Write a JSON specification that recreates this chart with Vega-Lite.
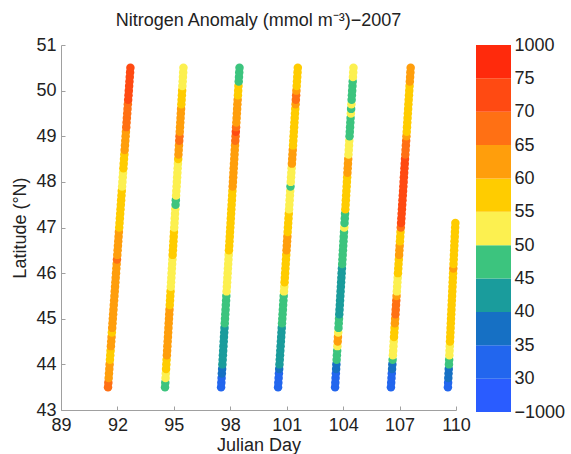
{
  "$schema": "https://vega.github.io/schema/vega-lite/v6.json",
  "background": "white",
  "padding": {"left": 11, "top": 12, "right": 5, "bottom": 0},
  "config": {"view": {"stroke": null}, "font": "Liberation Sans"},
  "spacing": 20,
  "bounds": "flush",
  "datasets": {
    "pts": [
      {"day":91.5,"lat":43.5,"n":67},{"day":91.517,"lat":43.6,"n":67},{"day":91.534,"lat":43.7,"n":62},{"day":91.551,"lat":43.8,"n":62},{"day":91.568,"lat":43.9,"n":62},{"day":91.585,"lat":44.0,"n":62},{"day":91.602,"lat":44.1,"n":57},{"day":91.619,"lat":44.2,"n":57},{"day":91.636,"lat":44.3,"n":57},{"day":91.653,"lat":44.4,"n":62},{"day":91.67,"lat":44.5,"n":62},{"day":91.687,"lat":44.6,"n":62},{"day":91.704,"lat":44.7,"n":57},{"day":91.721,"lat":44.8,"n":62},{"day":91.738,"lat":44.9,"n":62},{"day":91.755,"lat":45.0,"n":62},{"day":91.772,"lat":45.1,"n":62},{"day":91.789,"lat":45.2,"n":62},{"day":91.806,"lat":45.3,"n":62},{"day":91.823,"lat":45.4,"n":62},{"day":91.84,"lat":45.5,"n":62},{"day":91.857,"lat":45.6,"n":62},{"day":91.874,"lat":45.7,"n":62},{"day":91.891,"lat":45.8,"n":62},{"day":91.908,"lat":45.9,"n":62},{"day":91.925,"lat":46.0,"n":62},{"day":91.942,"lat":46.1,"n":62},{"day":91.959,"lat":46.2,"n":62},{"day":91.976,"lat":46.3,"n":67},{"day":91.993,"lat":46.4,"n":62},{"day":92.01,"lat":46.5,"n":62},{"day":92.027,"lat":46.6,"n":62},{"day":92.044,"lat":46.7,"n":62},{"day":92.061,"lat":46.8,"n":62},{"day":92.078,"lat":46.9,"n":62},{"day":92.095,"lat":47.0,"n":57},{"day":92.112,"lat":47.1,"n":57},{"day":92.129,"lat":47.2,"n":57},{"day":92.146,"lat":47.3,"n":57},{"day":92.163,"lat":47.4,"n":57},{"day":92.18,"lat":47.5,"n":57},{"day":92.197,"lat":47.6,"n":57},{"day":92.214,"lat":47.7,"n":57},{"day":92.231,"lat":47.8,"n":57},{"day":92.248,"lat":47.9,"n":52},{"day":92.265,"lat":48.0,"n":52},{"day":92.282,"lat":48.1,"n":52},{"day":92.299,"lat":48.2,"n":52},{"day":92.316,"lat":48.3,"n":57},{"day":92.333,"lat":48.4,"n":57},{"day":92.35,"lat":48.5,"n":57},{"day":92.367,"lat":48.6,"n":57},{"day":92.384,"lat":48.7,"n":62},{"day":92.401,"lat":48.8,"n":62},{"day":92.418,"lat":48.9,"n":62},{"day":92.435,"lat":49.0,"n":62},{"day":92.452,"lat":49.1,"n":62},{"day":92.469,"lat":49.2,"n":67},{"day":92.486,"lat":49.3,"n":67},{"day":92.503,"lat":49.4,"n":67},{"day":92.52,"lat":49.5,"n":67},{"day":92.537,"lat":49.6,"n":67},{"day":92.554,"lat":49.7,"n":67},{"day":92.571,"lat":49.8,"n":72},{"day":92.588,"lat":49.9,"n":72},{"day":92.605,"lat":50.0,"n":72},{"day":92.622,"lat":50.1,"n":72},{"day":92.639,"lat":50.2,"n":72},{"day":92.656,"lat":50.3,"n":72},{"day":92.673,"lat":50.4,"n":72},{"day":92.69,"lat":50.5,"n":72},

      {"day":94.53,"lat":43.5,"n":47},{"day":94.544,"lat":43.6,"n":47},{"day":94.558,"lat":43.7,"n":52},{"day":94.572,"lat":43.8,"n":52},{"day":94.586,"lat":43.9,"n":57},{"day":94.6,"lat":44.0,"n":57},{"day":94.614,"lat":44.1,"n":57},{"day":94.628,"lat":44.2,"n":62},{"day":94.642,"lat":44.3,"n":62},{"day":94.656,"lat":44.4,"n":62},{"day":94.67,"lat":44.5,"n":62},{"day":94.684,"lat":44.6,"n":62},{"day":94.698,"lat":44.7,"n":62},{"day":94.712,"lat":44.8,"n":62},{"day":94.726,"lat":44.9,"n":62},{"day":94.74,"lat":45.0,"n":62},{"day":94.754,"lat":45.1,"n":62},{"day":94.768,"lat":45.2,"n":62},{"day":94.782,"lat":45.3,"n":57},{"day":94.796,"lat":45.4,"n":57},{"day":94.81,"lat":45.5,"n":57},{"day":94.824,"lat":45.6,"n":57},{"day":94.838,"lat":45.7,"n":52},{"day":94.852,"lat":45.8,"n":52},{"day":94.866,"lat":45.9,"n":52},{"day":94.88,"lat":46.0,"n":52},{"day":94.894,"lat":46.1,"n":52},{"day":94.908,"lat":46.2,"n":52},{"day":94.922,"lat":46.3,"n":52},{"day":94.936,"lat":46.4,"n":57},{"day":94.95,"lat":46.5,"n":57},{"day":94.964,"lat":46.6,"n":57},{"day":94.978,"lat":46.7,"n":57},{"day":94.992,"lat":46.8,"n":57},{"day":95.006,"lat":46.9,"n":57},{"day":95.02,"lat":47.0,"n":52},{"day":95.034,"lat":47.1,"n":52},{"day":95.048,"lat":47.2,"n":52},{"day":95.062,"lat":47.3,"n":52},{"day":95.076,"lat":47.4,"n":52},{"day":95.09,"lat":47.5,"n":47},{"day":95.104,"lat":47.6,"n":47},{"day":95.118,"lat":47.7,"n":52},{"day":95.132,"lat":47.8,"n":52},{"day":95.146,"lat":47.9,"n":52},{"day":95.16,"lat":48.0,"n":52},{"day":95.174,"lat":48.1,"n":52},{"day":95.188,"lat":48.2,"n":52},{"day":95.202,"lat":48.3,"n":52},{"day":95.216,"lat":48.4,"n":52},{"day":95.23,"lat":48.5,"n":57},{"day":95.244,"lat":48.6,"n":62},{"day":95.258,"lat":48.7,"n":62},{"day":95.272,"lat":48.8,"n":62},{"day":95.286,"lat":48.9,"n":67},{"day":95.3,"lat":49.0,"n":67},{"day":95.314,"lat":49.1,"n":62},{"day":95.328,"lat":49.2,"n":62},{"day":95.342,"lat":49.3,"n":62},{"day":95.356,"lat":49.4,"n":62},{"day":95.37,"lat":49.5,"n":62},{"day":95.384,"lat":49.6,"n":62},{"day":95.398,"lat":49.7,"n":57},{"day":95.412,"lat":49.8,"n":57},{"day":95.426,"lat":49.9,"n":57},{"day":95.44,"lat":50.0,"n":57},{"day":95.454,"lat":50.1,"n":52},{"day":95.468,"lat":50.2,"n":52},{"day":95.482,"lat":50.3,"n":52},{"day":95.496,"lat":50.4,"n":52},{"day":95.51,"lat":50.5,"n":52},

      {"day":97.51,"lat":43.5,"n":32},{"day":97.524,"lat":43.6,"n":32},{"day":97.538,"lat":43.7,"n":32},{"day":97.552,"lat":43.8,"n":37},{"day":97.566,"lat":43.9,"n":37},{"day":97.58,"lat":44.0,"n":42},{"day":97.594,"lat":44.1,"n":42},{"day":97.608,"lat":44.2,"n":42},{"day":97.622,"lat":44.3,"n":42},{"day":97.636,"lat":44.4,"n":42},{"day":97.65,"lat":44.5,"n":42},{"day":97.664,"lat":44.6,"n":42},{"day":97.678,"lat":44.7,"n":42},{"day":97.692,"lat":44.8,"n":42},{"day":97.706,"lat":44.9,"n":47},{"day":97.72,"lat":45.0,"n":47},{"day":97.734,"lat":45.1,"n":47},{"day":97.748,"lat":45.2,"n":47},{"day":97.762,"lat":45.3,"n":47},{"day":97.776,"lat":45.4,"n":47},{"day":97.79,"lat":45.5,"n":47},{"day":97.804,"lat":45.6,"n":52},{"day":97.818,"lat":45.7,"n":52},{"day":97.832,"lat":45.8,"n":52},{"day":97.846,"lat":45.9,"n":52},{"day":97.86,"lat":46.0,"n":52},{"day":97.874,"lat":46.1,"n":52},{"day":97.888,"lat":46.2,"n":52},{"day":97.902,"lat":46.3,"n":52},{"day":97.916,"lat":46.4,"n":52},{"day":97.93,"lat":46.5,"n":57},{"day":97.944,"lat":46.6,"n":57},{"day":97.958,"lat":46.7,"n":57},{"day":97.972,"lat":46.8,"n":57},{"day":97.986,"lat":46.9,"n":57},{"day":98.0,"lat":47.0,"n":57},{"day":98.014,"lat":47.1,"n":57},{"day":98.028,"lat":47.2,"n":57},{"day":98.042,"lat":47.3,"n":57},{"day":98.056,"lat":47.4,"n":57},{"day":98.07,"lat":47.5,"n":57},{"day":98.084,"lat":47.6,"n":57},{"day":98.098,"lat":47.7,"n":57},{"day":98.112,"lat":47.8,"n":57},{"day":98.126,"lat":47.9,"n":62},{"day":98.14,"lat":48.0,"n":62},{"day":98.154,"lat":48.1,"n":62},{"day":98.168,"lat":48.2,"n":62},{"day":98.182,"lat":48.3,"n":62},{"day":98.196,"lat":48.4,"n":62},{"day":98.21,"lat":48.5,"n":62},{"day":98.224,"lat":48.6,"n":62},{"day":98.238,"lat":48.7,"n":62},{"day":98.252,"lat":48.8,"n":62},{"day":98.266,"lat":48.9,"n":67},{"day":98.28,"lat":49.0,"n":67},{"day":98.294,"lat":49.1,"n":72},{"day":98.308,"lat":49.2,"n":67},{"day":98.322,"lat":49.3,"n":62},{"day":98.336,"lat":49.4,"n":62},{"day":98.35,"lat":49.5,"n":62},{"day":98.364,"lat":49.6,"n":62},{"day":98.378,"lat":49.7,"n":62},{"day":98.392,"lat":49.8,"n":62},{"day":98.406,"lat":49.9,"n":57},{"day":98.42,"lat":50.0,"n":57},{"day":98.434,"lat":50.1,"n":57},{"day":98.448,"lat":50.2,"n":47},{"day":98.462,"lat":50.3,"n":47},{"day":98.476,"lat":50.4,"n":47},{"day":98.49,"lat":50.5,"n":47},

      {"day":100.54,"lat":43.5,"n":32},{"day":100.555,"lat":43.6,"n":32},{"day":100.57,"lat":43.7,"n":32},{"day":100.585,"lat":43.8,"n":32},{"day":100.6,"lat":43.9,"n":37},{"day":100.615,"lat":44.0,"n":42},{"day":100.63,"lat":44.1,"n":42},{"day":100.645,"lat":44.2,"n":42},{"day":100.66,"lat":44.3,"n":42},{"day":100.675,"lat":44.4,"n":42},{"day":100.69,"lat":44.5,"n":42},{"day":100.705,"lat":44.6,"n":42},{"day":100.72,"lat":44.7,"n":42},{"day":100.735,"lat":44.8,"n":42},{"day":100.75,"lat":44.9,"n":47},{"day":100.765,"lat":45.0,"n":47},{"day":100.78,"lat":45.1,"n":47},{"day":100.795,"lat":45.2,"n":47},{"day":100.81,"lat":45.3,"n":47},{"day":100.825,"lat":45.4,"n":47},{"day":100.84,"lat":45.5,"n":47},{"day":100.855,"lat":45.6,"n":52},{"day":100.87,"lat":45.7,"n":52},{"day":100.885,"lat":45.8,"n":57},{"day":100.9,"lat":45.9,"n":57},{"day":100.915,"lat":46.0,"n":57},{"day":100.93,"lat":46.1,"n":57},{"day":100.945,"lat":46.2,"n":57},{"day":100.96,"lat":46.3,"n":57},{"day":100.975,"lat":46.4,"n":57},{"day":100.99,"lat":46.5,"n":62},{"day":101.005,"lat":46.6,"n":62},{"day":101.02,"lat":46.7,"n":62},{"day":101.035,"lat":46.8,"n":62},{"day":101.05,"lat":46.9,"n":57},{"day":101.065,"lat":47.0,"n":57},{"day":101.08,"lat":47.1,"n":57},{"day":101.095,"lat":47.2,"n":57},{"day":101.11,"lat":47.3,"n":57},{"day":101.125,"lat":47.4,"n":52},{"day":101.14,"lat":47.5,"n":52},{"day":101.155,"lat":47.6,"n":52},{"day":101.17,"lat":47.7,"n":52},{"day":101.185,"lat":47.8,"n":52},{"day":101.2,"lat":47.9,"n":47},{"day":101.215,"lat":48.0,"n":52},{"day":101.23,"lat":48.1,"n":52},{"day":101.245,"lat":48.2,"n":52},{"day":101.26,"lat":48.3,"n":52},{"day":101.275,"lat":48.4,"n":62},{"day":101.29,"lat":48.5,"n":62},{"day":101.305,"lat":48.6,"n":62},{"day":101.32,"lat":48.7,"n":62},{"day":101.335,"lat":48.8,"n":57},{"day":101.35,"lat":48.9,"n":57},{"day":101.365,"lat":49.0,"n":57},{"day":101.38,"lat":49.1,"n":57},{"day":101.395,"lat":49.2,"n":57},{"day":101.41,"lat":49.3,"n":57},{"day":101.425,"lat":49.4,"n":57},{"day":101.44,"lat":49.5,"n":57},{"day":101.455,"lat":49.6,"n":57},{"day":101.47,"lat":49.7,"n":62},{"day":101.485,"lat":49.8,"n":67},{"day":101.5,"lat":49.9,"n":67},{"day":101.515,"lat":50.0,"n":62},{"day":101.53,"lat":50.1,"n":57},{"day":101.545,"lat":50.2,"n":57},{"day":101.56,"lat":50.3,"n":57},{"day":101.575,"lat":50.4,"n":57},{"day":101.59,"lat":50.5,"n":57},

      {"day":103.57,"lat":43.5,"n":32},{"day":103.584,"lat":43.6,"n":32},{"day":103.598,"lat":43.7,"n":32},{"day":103.612,"lat":43.8,"n":32},{"day":103.626,"lat":43.9,"n":37},{"day":103.64,"lat":44.0,"n":37},{"day":103.654,"lat":44.1,"n":47},{"day":103.668,"lat":44.2,"n":47},{"day":103.682,"lat":44.3,"n":47},{"day":103.696,"lat":44.4,"n":52},{"day":103.71,"lat":44.5,"n":62},{"day":103.724,"lat":44.6,"n":62},{"day":103.738,"lat":44.7,"n":52},{"day":103.752,"lat":44.8,"n":47},{"day":103.766,"lat":44.9,"n":47},{"day":103.78,"lat":45.0,"n":47},{"day":103.794,"lat":45.1,"n":42},{"day":103.808,"lat":45.2,"n":42},{"day":103.822,"lat":45.3,"n":42},{"day":103.836,"lat":45.4,"n":42},{"day":103.85,"lat":45.5,"n":42},{"day":103.864,"lat":45.6,"n":42},{"day":103.878,"lat":45.7,"n":42},{"day":103.892,"lat":45.8,"n":42},{"day":103.906,"lat":45.9,"n":42},{"day":103.92,"lat":46.0,"n":42},{"day":103.934,"lat":46.1,"n":42},{"day":103.948,"lat":46.2,"n":47},{"day":103.962,"lat":46.3,"n":47},{"day":103.976,"lat":46.4,"n":47},{"day":103.99,"lat":46.5,"n":47},{"day":104.004,"lat":46.6,"n":47},{"day":104.018,"lat":46.7,"n":47},{"day":104.032,"lat":46.8,"n":47},{"day":104.046,"lat":46.9,"n":47},{"day":104.06,"lat":47.0,"n":52},{"day":104.074,"lat":47.1,"n":47},{"day":104.088,"lat":47.2,"n":47},{"day":104.102,"lat":47.3,"n":47},{"day":104.116,"lat":47.4,"n":57},{"day":104.13,"lat":47.5,"n":57},{"day":104.144,"lat":47.6,"n":57},{"day":104.158,"lat":47.7,"n":57},{"day":104.172,"lat":47.8,"n":57},{"day":104.186,"lat":47.9,"n":57},{"day":104.2,"lat":48.0,"n":57},{"day":104.214,"lat":48.1,"n":57},{"day":104.228,"lat":48.2,"n":62},{"day":104.242,"lat":48.3,"n":62},{"day":104.256,"lat":48.4,"n":62},{"day":104.27,"lat":48.5,"n":62},{"day":104.284,"lat":48.6,"n":52},{"day":104.298,"lat":48.7,"n":52},{"day":104.312,"lat":48.8,"n":52},{"day":104.326,"lat":48.9,"n":52},{"day":104.34,"lat":49.0,"n":47},{"day":104.354,"lat":49.1,"n":47},{"day":104.368,"lat":49.2,"n":47},{"day":104.382,"lat":49.3,"n":47},{"day":104.396,"lat":49.4,"n":47},{"day":104.41,"lat":49.5,"n":52},{"day":104.424,"lat":49.6,"n":47},{"day":104.438,"lat":49.7,"n":52},{"day":104.452,"lat":49.8,"n":47},{"day":104.466,"lat":49.9,"n":47},{"day":104.48,"lat":50.0,"n":47},{"day":104.494,"lat":50.1,"n":47},{"day":104.508,"lat":50.2,"n":47},{"day":104.522,"lat":50.3,"n":52},{"day":104.536,"lat":50.4,"n":52},{"day":104.55,"lat":50.5,"n":52},

      {"day":106.54,"lat":43.5,"n":32},{"day":106.555,"lat":43.6,"n":32},{"day":106.57,"lat":43.7,"n":32},{"day":106.585,"lat":43.8,"n":32},{"day":106.6,"lat":43.9,"n":37},{"day":106.615,"lat":44.0,"n":37},{"day":106.63,"lat":44.1,"n":47},{"day":106.645,"lat":44.2,"n":52},{"day":106.66,"lat":44.3,"n":52},{"day":106.675,"lat":44.4,"n":52},{"day":106.69,"lat":44.5,"n":52},{"day":106.705,"lat":44.6,"n":57},{"day":106.72,"lat":44.7,"n":57},{"day":106.735,"lat":44.8,"n":57},{"day":106.75,"lat":44.9,"n":62},{"day":106.765,"lat":45.0,"n":62},{"day":106.78,"lat":45.1,"n":67},{"day":106.795,"lat":45.2,"n":67},{"day":106.81,"lat":45.3,"n":67},{"day":106.825,"lat":45.4,"n":67},{"day":106.84,"lat":45.5,"n":62},{"day":106.855,"lat":45.6,"n":52},{"day":106.87,"lat":45.7,"n":52},{"day":106.885,"lat":45.8,"n":52},{"day":106.9,"lat":45.9,"n":52},{"day":106.915,"lat":46.0,"n":57},{"day":106.93,"lat":46.1,"n":57},{"day":106.945,"lat":46.2,"n":57},{"day":106.96,"lat":46.3,"n":57},{"day":106.975,"lat":46.4,"n":62},{"day":106.99,"lat":46.5,"n":62},{"day":107.005,"lat":46.6,"n":62},{"day":107.02,"lat":46.7,"n":57},{"day":107.035,"lat":46.8,"n":57},{"day":107.05,"lat":46.9,"n":57},{"day":107.065,"lat":47.0,"n":67},{"day":107.08,"lat":47.1,"n":72},{"day":107.095,"lat":47.2,"n":72},{"day":107.11,"lat":47.3,"n":72},{"day":107.125,"lat":47.4,"n":72},{"day":107.14,"lat":47.5,"n":72},{"day":107.155,"lat":47.6,"n":72},{"day":107.17,"lat":47.7,"n":72},{"day":107.185,"lat":47.8,"n":72},{"day":107.2,"lat":47.9,"n":72},{"day":107.215,"lat":48.0,"n":72},{"day":107.23,"lat":48.1,"n":72},{"day":107.245,"lat":48.2,"n":72},{"day":107.26,"lat":48.3,"n":72},{"day":107.275,"lat":48.4,"n":72},{"day":107.29,"lat":48.5,"n":72},{"day":107.305,"lat":48.6,"n":67},{"day":107.32,"lat":48.7,"n":67},{"day":107.335,"lat":48.8,"n":67},{"day":107.35,"lat":48.9,"n":67},{"day":107.365,"lat":49.0,"n":62},{"day":107.38,"lat":49.1,"n":57},{"day":107.395,"lat":49.2,"n":57},{"day":107.41,"lat":49.3,"n":57},{"day":107.425,"lat":49.4,"n":57},{"day":107.44,"lat":49.5,"n":57},{"day":107.455,"lat":49.6,"n":57},{"day":107.47,"lat":49.7,"n":57},{"day":107.485,"lat":49.8,"n":57},{"day":107.5,"lat":49.9,"n":57},{"day":107.515,"lat":50.0,"n":57},{"day":107.53,"lat":50.1,"n":57},{"day":107.545,"lat":50.2,"n":62},{"day":107.56,"lat":50.3,"n":62},{"day":107.575,"lat":50.4,"n":62},{"day":107.59,"lat":50.5,"n":62},

      {"day":109.57,"lat":43.5,"n":32},{"day":109.581,"lat":43.6,"n":32},{"day":109.592,"lat":43.7,"n":37},{"day":109.603,"lat":43.8,"n":37},{"day":109.614,"lat":43.9,"n":37},{"day":109.625,"lat":44.0,"n":47},{"day":109.636,"lat":44.1,"n":47},{"day":109.647,"lat":44.2,"n":52},{"day":109.658,"lat":44.3,"n":52},{"day":109.669,"lat":44.4,"n":52},{"day":109.68,"lat":44.5,"n":57},{"day":109.691,"lat":44.6,"n":57},{"day":109.702,"lat":44.7,"n":57},{"day":109.713,"lat":44.8,"n":57},{"day":109.724,"lat":44.9,"n":57},{"day":109.735,"lat":45.0,"n":57},{"day":109.746,"lat":45.1,"n":57},{"day":109.757,"lat":45.2,"n":57},{"day":109.768,"lat":45.3,"n":57},{"day":109.779,"lat":45.4,"n":57},{"day":109.79,"lat":45.5,"n":57},{"day":109.801,"lat":45.6,"n":57},{"day":109.812,"lat":45.7,"n":57},{"day":109.823,"lat":45.8,"n":57},{"day":109.834,"lat":45.9,"n":57},{"day":109.845,"lat":46.0,"n":57},{"day":109.856,"lat":46.1,"n":62},{"day":109.867,"lat":46.2,"n":57},{"day":109.878,"lat":46.3,"n":57},{"day":109.889,"lat":46.4,"n":57},{"day":109.9,"lat":46.5,"n":57},{"day":109.911,"lat":46.6,"n":57},{"day":109.922,"lat":46.7,"n":57},{"day":109.933,"lat":46.8,"n":57},{"day":109.944,"lat":46.9,"n":57},{"day":109.955,"lat":47.0,"n":57},{"day":109.966,"lat":47.1,"n":57}
    ],
    "bar": [
      {"lo":0,"hi":1,"n":20},{"lo":1,"hi":2,"n":32},{"lo":2,"hi":3,"n":37},{"lo":3,"hi":4,"n":42},{"lo":4,"hi":5,"n":47},{"lo":5,"hi":6,"n":52},{"lo":6,"hi":7,"n":57},{"lo":7,"hi":8,"n":62},{"lo":8,"hi":9,"n":67},{"lo":9,"hi":10,"n":72},{"lo":10,"hi":11,"n":80}
    ]
  },
  "hconcat": [
    {
      "width": 395,
      "height": 365,
      "title": {"text": "Nitrogen Anomaly (mmol m⁻³)−2007", "fontSize": 18, "fontWeight": "normal", "color": "#222222", "offset": 6, "anchor": "middle"},
      "data": {"name": "pts"},
      "mark": {"type": "circle", "size": 72, "opacity": 1},
      "encoding": {
        "x": {"field": "day", "type": "quantitative",
          "scale": {"domain": [89, 110], "nice": false, "zero": false},
          "axis": {"title": "Julian Day", "values": [89, 92, 95, 98, 101, 104, 107, 110], "grid": false,
            "labelFontSize": 18, "titleFontSize": 18, "titleFontWeight": "normal", "labelColor": "#222222", "titleColor": "#222222",
            "domainColor": "#a0a0a0", "tickColor": "#a0a0a0", "tickSize": -4, "labelPadding": 10, "titlePadding": 2,
            "labelFlush": false, "labelOverlap": false}},
        "y": {"field": "lat", "type": "quantitative",
          "scale": {"domain": [43, 51], "nice": false, "zero": false},
          "axis": {"title": "Latitude (°N)", "values": [43, 44, 45, 46, 47, 48, 49, 50, 51], "grid": false,
            "labelFontSize": 18, "titleFontSize": 18, "titleFontWeight": "normal", "labelColor": "#222222", "titleColor": "#222222",
            "domainColor": "#a0a0a0", "tickColor": "#a0a0a0", "tickSize": -4, "labelPadding": 9, "titlePadding": 6,
            "labelFlush": false, "labelOverlap": false}},
        "color": {"field": "n", "type": "quantitative",
          "scale": {"type": "threshold", "domain": [30, 35, 40, 45, 50, 55, 60, 65, 70, 75],
            "range": ["#2a5cff", "#2266ee", "#1670c4", "#1a9c9c", "#3cc47e", "#fcf050", "#ffcc00", "#ff9e0c", "#ff7014", "#ff4a12", "#ff2a0c"]},
          "legend": null}
      }
    },
    {
      "width": 35,
      "height": 367,
      "data": {"name": "bar"},
      "mark": {"type": "rect"},
      "encoding": {
        "y": {"field": "lo", "type": "quantitative",
          "scale": {"domain": [0, 11], "nice": false, "zero": false},
          "axis": {"orient": "right", "title": null, "values": [0, 1, 2, 3, 4, 5, 6, 7, 8, 9, 10, 11],
            "labelExpr": "['−1000','30','35','40','45','50','55','60','65','70','75','1000'][datum.value]",
            "domain": false, "ticks": false, "grid": false, "labelPadding": 3, "labelFontSize": 18, "labelColor": "#222222",
            "labelFlush": false, "labelOverlap": false}},
        "y2": {"field": "hi"},
        "color": {"field": "n", "type": "quantitative",
          "scale": {"type": "threshold", "domain": [30, 35, 40, 45, 50, 55, 60, 65, 70, 75],
            "range": ["#2a5cff", "#2266ee", "#1670c4", "#1a9c9c", "#3cc47e", "#fcf050", "#ffcc00", "#ff9e0c", "#ff7014", "#ff4a12", "#ff2a0c"]},
          "legend": null}
      }
    }
  ]
}
